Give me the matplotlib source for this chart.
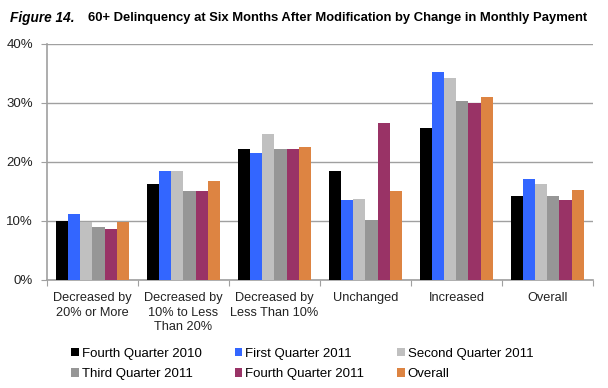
import matplotlib.pyplot as plt
import numpy as np
from matplotlib.patches import Patch

plt.rcParams['font.family'] = ['Liberation Sans', 'DejaVu Sans']

categories = [
    "Decreased by\n20% or More",
    "Decreased by\n10% to Less\nThan 20%",
    "Decreased by\nLess Than 10%",
    "Unchanged",
    "Increased",
    "Overall",
]
series_names = [
    "Fourth Quarter 2010",
    "First Quarter 2011",
    "Second Quarter 2011",
    "Third Quarter 2011",
    "Fourth Quarter 2011",
    "Overall",
]
q4_2010 = [10.0, 16.3, 22.2, 18.5, 25.8, 14.3]
q1_2011 = [11.2, 18.4, 21.5, 13.6, 35.3, 17.1]
q2_2011 = [9.8, 18.4, 24.7, 13.8, 34.3, 16.2]
q3_2011 = [9.0, 15.0, 22.2, 10.1, 30.4, 14.2]
q4_2011 = [8.6, 15.0, 22.2, 26.6, 30.0, 13.5]
overall = [9.8, 16.7, 22.5, 15.0, 31.1, 15.2]
series = [q4_2010, q1_2011, q2_2011, q3_2011, q4_2011, overall]
colors = ["#000000", "#3366FF", "#C0C0C0", "#969696", "#993366", "#DD8442"]

fig = plt.figure(figsize=(6.08, 3.88), dpi=100)
ax = fig.add_axes([0.0773, 0.2784, 0.898, 0.6082])

x = np.arange(len(categories))
w = 0.132
for i, (vals, c) in enumerate(zip(series, colors)):
    ax.bar(x + (i - 2.5) * w, vals, width=w, color=c, edgecolor="none", zorder=3)

ax.set_xlim(-0.5, len(categories) - 0.5)
ax.set_ylim(0, 40)
ax.set_yticks([0, 10, 20, 30, 40])
ax.set_yticklabels([f"{v}%" for v in [0, 10, 20, 30, 40]], fontsize=9.5, color="#222222")
ax.yaxis.grid(True, color="#A0A0A0", linewidth=1, zorder=0)

ax.set_xticks(np.arange(-0.5, len(categories)), minor=False)
ax.set_xticklabels([])
ax.set_xticks(x, minor=True)
ax.set_xticklabels(categories, minor=True, fontsize=9.2, color="#222222", linespacing=1.25)
ax.tick_params(axis="x", which="minor", length=0, pad=9)
ax.tick_params(axis="x", which="major", length=4, color="#A0A0A0")
ax.tick_params(axis="y", length=4, color="#A0A0A0", pad=6)

for s in ["top", "right"]:
    ax.spines[s].set_visible(False)
for s in ["left", "bottom"]:
    ax.spines[s].set_color("#A0A0A0")
    ax.spines[s].set_linewidth(1.2)

fig.text(0.016, 0.953, "Figure 14.", fontsize=9.8, fontweight="bold", fontstyle="italic",
         ha="left", va="center")
fig.text(0.145, 0.953, "60+ Delinquency at Six Months After Modification by Change in Monthly Payment",
         fontsize=9.4, fontweight="bold", ha="left", va="center")

handles = [Patch(facecolor=c, edgecolor="none") for c in colors]
order = [0, 3, 1, 4, 2, 5]
fig.legend([handles[i] for i in order], [series_names[i] for i in order],
           ncol=3, loc="center", bbox_to_anchor=(0.497, 0.062), frameon=False,
           fontsize=9.5, handlelength=0.6, handleheight=0.6, handletextpad=0.2,
           columnspacing=2.5, labelspacing=0.65)

fig.savefig("out.png", dpi=100)
